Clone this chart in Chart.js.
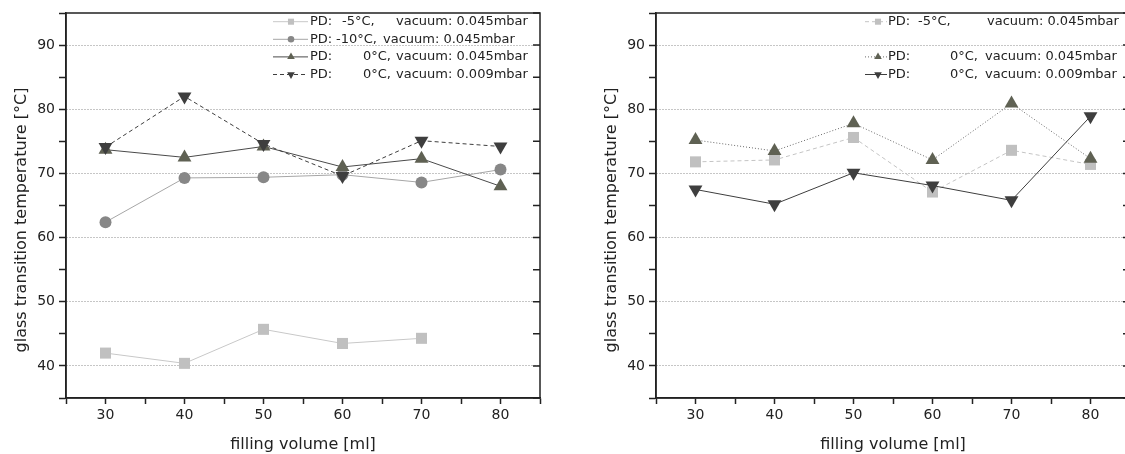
<!DOCTYPE html>
<html>
<head>
<meta charset="utf-8">
<script src="https://cdn.jsdelivr.net/npm/chart.js@4.4.0/dist/chart.umd.min.js"></script>
<style>
html, body { margin: 0; padding: 0; background: #fff; overflow: hidden; }
#wrap { position: relative; width: 1125px; height: 454px; overflow: hidden; }
.box { position: absolute; top: 0; width: 562px; height: 454px; }
</style>
</head>
<body>
<div id="wrap">
	<div class="box" style="left:0"><canvas id="left" width="562" height="454"></canvas></div>
	<div class="box" style="left:590px"><canvas id="right" width="562" height="454"></canvas></div>
</div>
<script>
// values
var volumes = [30, 40, 50, 60, 70, 80];
var xTickLabels = [30, 40, 50, 60, 70, 80];
var yTickLabels = [40, 50, 60, 70, 80, 90];
var yTitle = "glass transition temperature [°C]";
var xTitle = "filling volume [ml]";

// left plot
var leftMinus5 = [42.0, 40.4, 45.7, 43.5, 44.3, null];
var leftMinus10 = [62.4, 69.3, 69.4, 69.8, 68.6, 70.6];
var left0High = [73.7, 72.5, 74.2, 71.0, 72.3, 68.0];
var left0Low = [74.1, 82.0, 74.6, 69.6, 75.1, 74.2];
var leftTemps = ["-5°C,", "-10°C,", "0°C,", "0°C,"];
var leftVacuum = ["vacuum: 0.045mbar", "vacuum: 0.045mbar", "vacuum: 0.045mbar", "vacuum: 0.009mbar"];

// right plot
var rightMinus5 = [71.8, 72.1, 75.6, 67.1, 73.6, 71.4];
var right0High = [75.2, 73.5, 77.8, 72.1, 80.9, 72.3];
var right0Low = [67.5, 65.2, 70.1, 68.1, 65.8, 78.9];
var rightTemps = ["-5°C,", "0°C,", "0°C,"];
var rightVacuum = ["vacuum: 0.045mbar", "vacuum: 0.045mbar", "vacuum: 0.009mbar"];

var fontFamily = "'DejaVu Sans', Verdana, sans-serif";
Chart.defaults.font.family = fontFamily;
Chart.defaults.font.size = 14;
Chart.defaults.color = "#222";

function series(values, style) {
	var pts = volumes.map(function (v, i) {
		return { x: v, y: values[i] };
	});
	return Object.assign({
		data: pts,
		fill: false,
		tension: 0,
		spanGaps: false,
		borderWidth: 1,
		pointBorderWidth: 0,
		pointHoverRadius: 0
	}, style);
}

var squares = { pointStyle: "rect", pointRadius: 7.8, pointBackgroundColor: "#c0c0c0" };
var circles = { pointStyle: "circle", pointRadius: 6, pointBackgroundColor: "#878787" };
var upTri = { pointStyle: "triangle", pointRadius: 8, pointBackgroundColor: "#5f6153" };
var downTri = { pointStyle: "triangle", pointRotation: 180, pointRadius: 8, pointBackgroundColor: "#3e3e3e" };

// frame, inner ticks on the right side, y title and the legend
var framePlugin = {
	id: "frame",
	afterDraw: function (chart, args, opts) {
		var a = chart.chartArea;
		var ctx = chart.ctx;
		var ys = chart.scales.y;
		ctx.save();
		ctx.strokeStyle = "#222";
		ctx.lineWidth = 1.5;
		ctx.strokeRect(a.left, a.top, a.right - a.left, a.bottom - a.top);
		ctx.beginPath();
		ys.ticks.forEach(function (t) {
			var py = ys.getPixelForValue(t.value);
			ctx.moveTo(a.right, py);
			ctx.lineTo(a.right - 7, py);
		});
		ctx.stroke();

		// y title sits a bit below the middle of the axis in the original
		ctx.save();
		ctx.translate(22, 220);
		ctx.rotate(-Math.PI / 2);
		ctx.fillStyle = "#222";
		ctx.font = "16px " + fontFamily;
		ctx.textAlign = "center";
		ctx.textBaseline = "middle";
		ctx.fillText(yTitle, 0, 0);
		ctx.restore();

		var x0 = a.right + opts.textX;
		chart.data.datasets.forEach(function (d, i) {
			var row = opts.rows[i];
			var y = a.top + 8.7 + 17.6 * row;
			ctx.save();
			ctx.strokeStyle = d.borderColor;
			ctx.lineWidth = 1;
			ctx.setLineDash(d.borderDash || []);
			ctx.beginPath();
			ctx.moveTo(x0 + opts.lineFrom, y);
			ctx.lineTo(x0 + opts.lineTo, y);
			ctx.stroke();
			ctx.setLineDash([]);
			ctx.fillStyle = d.pointBackgroundColor;
			Chart.helpers.drawPoint(ctx, {
				pointStyle: d.pointStyle,
				rotation: d.pointRotation || 0,
				radius: d.pointRadius * 0.55,
				borderWidth: 0
			}, x0 + opts.markX, y);
			ctx.restore();

			ctx.fillStyle = "#222";
			ctx.font = "13px " + fontFamily;
			ctx.textBaseline = "middle";
			ctx.textAlign = "left";
			ctx.fillText("PD:", x0, y);
			ctx.fillText(opts.temps[i], x0 + opts.tempX[i], y);
			ctx.fillText(opts.vacuum[i], x0 + opts.vacX[i], y);
		});
		ctx.restore();
	}
};

function makeOptions(legend) {
	return {
		responsive: false,
		animation: false,
		events: [],
		layout: { padding: { top: 13, right: 22, left: 0, bottom: 0 } },
		plugins: {
			legend: { display: false },
			tooltip: { enabled: false },
			frame: legend
		},
		scales: {
			x: {
				type: "linear",
				min: 25,
				max: 85,
				afterFit: function (s) { s.height = 56; },
				ticks: {
					stepSize: 5,
					padding: 3,
					maxRotation: 0,
					callback: function (v) { return xTickLabels.indexOf(v) >= 0 ? v : ""; }
				},
				grid: { drawOnChartArea: false, tickLength: 6, tickColor: "#222", tickWidth: 1.5 },
				border: { color: "#222", width: 1.5 },
				title: { display: true, text: xTitle, font: { size: 16 }, padding: { top: 0, bottom: 0 } }
			},
			y: {
				min: 35,
				max: 95,
				afterFit: function (s) { s.width = 66; },
				ticks: {
					stepSize: 5,
					padding: 4,
					callback: function (v) { return yTickLabels.indexOf(v) >= 0 ? v : ""; }
				},
				grid: {
					tickLength: 7,
					tickColor: "#222",
					tickWidth: 1.5,
					lineWidth: 1,
					color: function (c) {
						return c.tick && yTickLabels.indexOf(c.tick.value) >= 0 ? "#8c8c8c" : "rgba(0,0,0,0)";
					}
				},
				border: { color: "#222", width: 1.5, dash: [1, 2] }
			}
		}
	};
}

new Chart(document.getElementById("left").getContext("2d"), {
	type: "line",
	data: {
		datasets: [
			series(leftMinus5, Object.assign({ borderColor: "#c8c8c8", order: 3 }, squares)),
			series(leftMinus10, Object.assign({ borderColor: "#a6a6a6", order: 2 }, circles)),
			series(left0High, Object.assign({ borderColor: "#4a4a4a", order: 1 }, upTri)),
			series(left0Low, Object.assign({ borderColor: "#3e3e3e", borderDash: [4, 3], order: 0 }, downTri))
		]
	},
	options: makeOptions({
		rows: [0, 1, 2, 3],
		temps: leftTemps,
		vacuum: leftVacuum,
		textX: -230,
		tempX: [32, 26, 53, 53],
		vacX: [86, 73, 86, 86],
		lineFrom: -37,
		lineTo: -2,
		markX: -19
	}),
	plugins: [framePlugin]
});

new Chart(document.getElementById("right").getContext("2d"), {
	type: "line",
	data: {
		datasets: [
			series(rightMinus5, Object.assign({ borderColor: "#c4c4c4", borderDash: [4, 3], order: 2 }, squares)),
			series(right0High, Object.assign({ borderColor: "#6a6a6a", borderDash: [1, 2], order: 1 }, upTri)),
			series(right0Low, Object.assign({ borderColor: "#3e3e3e", order: 0 }, downTri))
		]
	},
	options: makeOptions({
		rows: [0, 2, 3],
		temps: rightTemps,
		vacuum: rightVacuum,
		textX: -242,
		tempX: [30, 62, 62],
		vacX: [99, 97, 97],
		lineFrom: -23,
		lineTo: -1,
		markX: -10
	}),
	plugins: [framePlugin]
});
</script>
</body>
</html>
